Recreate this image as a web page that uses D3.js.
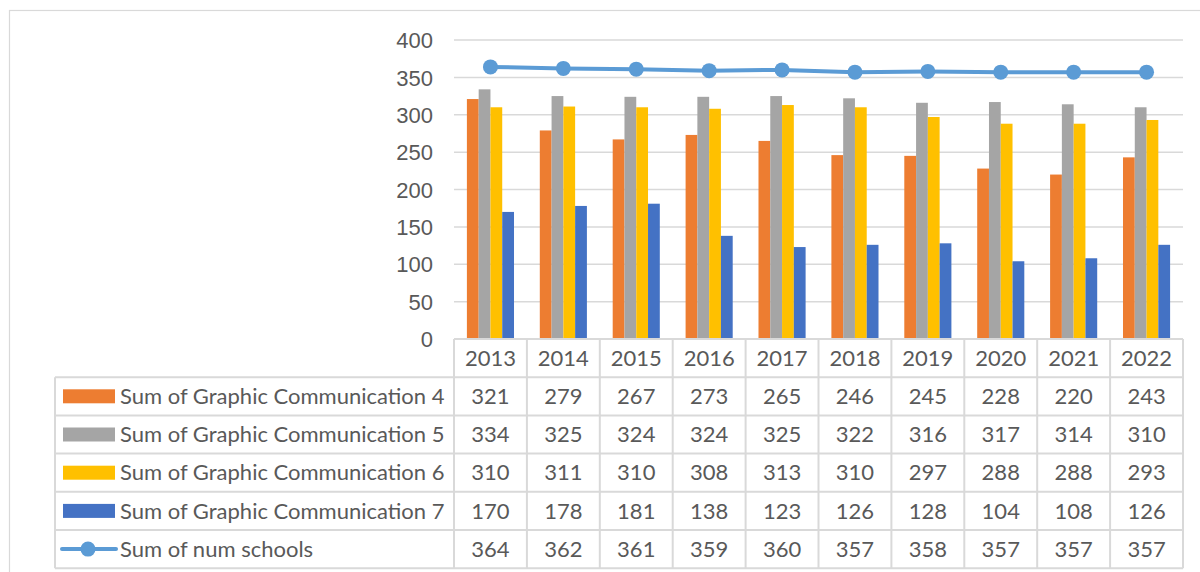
<!DOCTYPE html>
<html>
<head>
<meta charset="utf-8">
<script src="https://cdn.jsdelivr.net/npm/d3@7"></script>
<style>
  html, body { margin: 0; padding: 0; background: #fff; }
  svg { display: block; font-family: Lato, "Open Sans", sans-serif; }
</style>
</head>
<body>
<svg id="chart" width="1200" height="572"></svg>
<script>
// ── Data ──────────────────────────────────────────────────────────────────────

const years   = ['2013', '2014', '2015', '2016', '2017', '2018', '2019', '2020', '2021', '2022'];
const gc4     = [321, 279, 267, 273, 265, 246, 245, 228, 220, 243];
const gc5     = [334, 325, 324, 324, 325, 322, 316, 317, 314, 310];
const gc6     = [310, 311, 310, 308, 313, 310, 297, 288, 288, 293];
const gc7     = [170, 178, 181, 138, 123, 126, 128, 104, 108, 126];
const schools = [364, 362, 361, 359, 360, 357, 358, 357, 357, 357];
const yTicks  = [0, 50, 100, 150, 200, 250, 300, 350, 400];

const barSeries = [
  { name: 'Sum of Graphic Communication 4', values: gc4, color: '#ED7D31' },
  { name: 'Sum of Graphic Communication 5', values: gc5, color: '#A5A5A5' },
  { name: 'Sum of Graphic Communication 6', values: gc6, color: '#FFC000' },
  { name: 'Sum of Graphic Communication 7', values: gc7, color: '#4472C4' }
];
const lineSeries = { name: 'Sum of num schools', values: schools, color: '#5B9BD5' };

// ── Layout ────────────────────────────────────────────────────────────────────

const plotL = 454, plotR = 1183, plotT = 40, plotB = 339;
const rowH  = 38.2;
const legendL = 55;
const gridCol = '#d9d9d9';
const textCol = '#595959';
const fontSize = '22px';

const svg = d3.select('#chart');

// outer chart frame
svg.append('rect')
  .attr('x', 9.5).attr('y', 10.5).attr('width', 1200).attr('height', 600)
  .attr('fill', 'none').attr('stroke', gridCol).attr('stroke-width', 1.2);

// ── Scales ────────────────────────────────────────────────────────────────────

const x = d3.scaleBand().domain(years).range([plotL, plotR]).padding(0);
const y = d3.scaleLinear().domain([0, 400]).range([plotB, plotT]);

// Excel gap width 219%
const barW = x.bandwidth() / (barSeries.length + 2.19);
const xs = d3.scaleBand()
  .domain(barSeries.map(s => s.name))
  .range([(x.bandwidth() - barW * barSeries.length) / 2, (x.bandwidth() + barW * barSeries.length) / 2]);

// ── Gridlines + y axis ────────────────────────────────────────────────────────

svg.append('g')
  .selectAll('line')
  .data(yTicks.filter(t => t > 0))
  .join('line')
  .attr('x1', plotL).attr('x2', plotR)
  .attr('y1', d => y(d)).attr('y2', d => y(d))
  .attr('stroke', gridCol).attr('stroke-width', 1.5);

const yAxis = svg.append('g')
  .attr('transform', `translate(${plotL - 21},0)`)
  .call(d3.axisLeft(y).tickValues(yTicks).tickSize(0).tickPadding(0));
yAxis.select('.domain').remove();
yAxis.selectAll('text')
  .attr('fill', textCol).style('font-size', fontSize)
  .attr('dy', '0.35em');

// ── Bars ──────────────────────────────────────────────────────────────────────

const groups = svg.append('g')
  .selectAll('g')
  .data(years)
  .join('g')
  .attr('transform', d => `translate(${x(d)},0)`);

groups.selectAll('rect')
  .data((d, i) => barSeries.map(s => ({ name: s.name, v: s.values[i], color: s.color })))
  .join('rect')
  .attr('x', d => xs(d.name))
  .attr('width', xs.bandwidth())
  .attr('y', d => y(d.v))
  .attr('height', d => y(0) - y(d.v))
  .attr('fill', d => d.color);

// ── Line ──────────────────────────────────────────────────────────────────────

const cx = (d, i) => x(years[i]) + x.bandwidth() / 2;

svg.append('path')
  .datum(lineSeries.values)
  .attr('fill', 'none')
  .attr('stroke', lineSeries.color)
  .attr('stroke-width', 4)
  .attr('stroke-linejoin', 'round')
  .attr('d', d3.line().x(cx).y(d => y(d)));

svg.append('g')
  .selectAll('circle')
  .data(lineSeries.values)
  .join('circle')
  .attr('cx', cx).attr('cy', d => y(d))
  .attr('r', 7.5)
  .attr('fill', lineSeries.color);

// ── Data table ────────────────────────────────────────────────────────────────

const table = svg.append('g');
const allRows = [...barSeries, lineSeries];
const tableB = plotB + rowH * (allRows.length + 1);

// horizontal lines (header row only spans the year columns)
const hLines = d3.range(allRows.length + 2).map(i => plotB + i * rowH);
table.selectAll('line.h')
  .data(hLines)
  .join('line')
  .attr('class', 'h')
  .attr('x1', (d, i) => i === 0 ? plotL : legendL)
  .attr('x2', plotR)
  .attr('y1', d => d).attr('y2', d => d)
  .attr('stroke', gridCol).attr('stroke-width', 2);

// vertical lines
const vLines = years.map(yr => x(yr)).concat([plotR]);
table.selectAll('line.v')
  .data(vLines)
  .join('line')
  .attr('class', 'v')
  .attr('x1', d => d).attr('x2', d => d)
  .attr('y1', plotB).attr('y2', tableB)
  .attr('stroke', gridCol).attr('stroke-width', 2);

table.append('line')
  .attr('x1', legendL).attr('x2', legendL)
  .attr('y1', plotB + rowH).attr('y2', tableB)
  .attr('stroke', gridCol).attr('stroke-width', 2);

// header years
table.selectAll('text.yr')
  .data(years)
  .join('text')
  .attr('class', 'yr')
  .attr('x', d => x(d) + x.bandwidth() / 2)
  .attr('y', plotB + rowH / 2)
  .attr('dy', '0.35em')
  .attr('text-anchor', 'middle')
  .attr('fill', textCol).style('font-size', fontSize)
  .text(d => d);

// rows
const rows = table.selectAll('g.row')
  .data(allRows)
  .join('g')
  .attr('class', 'row')
  .attr('transform', (d, i) => `translate(0,${plotB + rowH * (i + 1) + rowH / 2})`);

rows.selectAll('text.val')
  .data(d => d.values)
  .join('text')
  .attr('class', 'val')
  .attr('x', (d, i) => x(years[i]) + x.bandwidth() / 2)
  .attr('dy', '0.35em')
  .attr('text-anchor', 'middle')
  .attr('fill', textCol).style('font-size', fontSize)
  .text(d => d);

rows.append('text')
  .attr('x', 120)
  .attr('dy', '0.35em')
  .attr('fill', textCol).style('font-size', fontSize)
  .text(d => d.name);

// legend keys
rows.filter(d => d !== lineSeries)
  .append('rect')
  .attr('x', 63).attr('y', -7).attr('width', 52).attr('height', 14)
  .attr('fill', d => d.color);

const lk = rows.filter(d => d === lineSeries);
lk.append('line')
  .attr('x1', 62).attr('x2', 116)
  .attr('stroke', lineSeries.color).attr('stroke-width', 4)
  .attr('stroke-linecap', 'round');
lk.append('circle')
  .attr('cx', 88).attr('r', 7.5)
  .attr('fill', lineSeries.color);
</script>
</body>
</html>
